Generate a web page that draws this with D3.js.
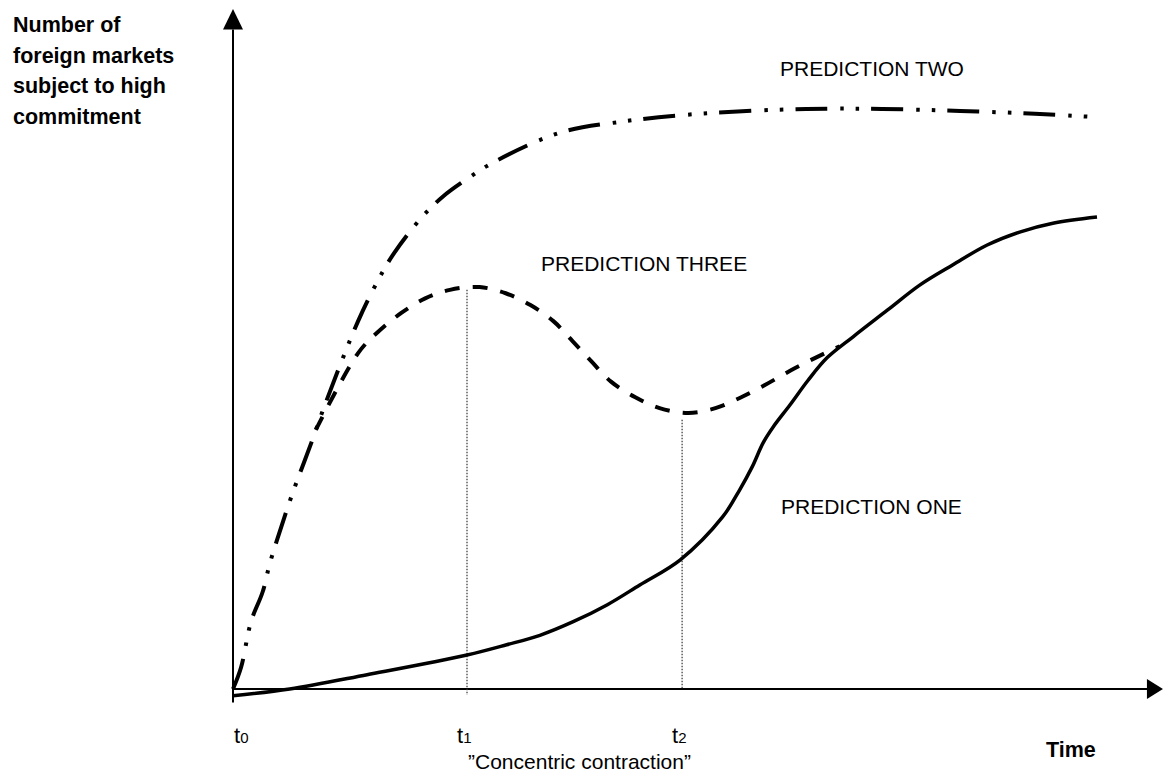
<!DOCTYPE html>
<html lang="en">
<head>
  <meta charset="UTF-8">
  <title>Foreign market commitment over time</title>
  <script src="https://d3js.org/d3.v7.min.js"></script>
  <style>
  body {
    margin: 0;
    background: #fff;
  }
  text {
    font-family: "Liberation Sans", Arial, sans-serif;
    fill: #000;
  }
  .label { font-size: 21px; }
  .bold { font-size: 21.5px; font-weight: bold; }
  .curve {
    fill: none;
    stroke: #000;
    stroke-linecap: butt;
    stroke-linejoin: round;
  }
  .guide {
    stroke: #333;
    stroke-width: 1.2px;
    stroke-dasharray: 1.5,1.5;
  }
  .axis line { stroke: #000; stroke-width: 2px; }
  </style>
</head>
<body>
  <div class="container"></div>
  <script>
  // x = time, y = number of markets (both in arbitrary 0..100 units)
  var oneX = [0, 6.3, 14.9, 26, 30.4, 34.1, 37.8, 41.6, 45.2, 49.7, 54.4, 56.3, 57.7, 58.9, 60, 61.9, 63.9, 66, 68.9, 72.7, 76.3, 80, 83.8, 87.4, 91.1, 96];
  var oneY = [-1, 0, 2.1, 5, 6.5, 7.9, 9.9, 12.4, 15.3, 19, 25.3, 29.3, 32.7, 36.2, 38.5, 41.8, 45.4, 48.7, 51.8, 55.7, 59.4, 62.4, 65.3, 67.2, 68.5, 69.4];

  var twoX = [0, 0.9, 2, 3.3, 4.1, 5.7, 6.7, 8.7, 10.3, 13.9, 16.2, 17.9, 21, 23.4, 26, 29, 36.3, 43, 51.9, 63.7, 72.1, 80.8, 89.1, 95.9];
  var twoY = [0, 3.2, 9.9, 14.3, 18.5, 25.2, 29.1, 36.2, 42.1, 54.1, 60.3, 64.1, 69.4, 72.5, 75, 77.5, 81.8, 83.4, 84.6, 85.3, 85.3, 85, 84.6, 84.1];

  var threeX = [9.2, 13.9, 16.1, 18.7, 21.3, 24.1, 27.4, 30.3, 33, 35.6, 37.7, 39.8, 42, 44.7, 47.4, 50.6, 53.6, 56.3, 59.1, 61.9, 64.7, 67.4];
  var threeY = [38.1, 49.4, 52.5, 55.3, 57.4, 58.7, 59.1, 58.2, 56.5, 54.1, 51.2, 48.2, 45.2, 42.9, 41.3, 40.6, 41.3, 42.8, 44.7, 46.8, 48.7, 50.4];

  var tickNames = ["t", "t", "t"];
  var tickSubs = ["0", "1", "2"];
  var tickX = [0, 26, 49.9];
  var guideTop = [58.7, 39.6];   // dotted lines at t1 and t2 (y where they start)

  var yTitle = ["Number of", "foreign markets", "subject to high", "commitment"];

  var w = 1163, h = 776;
  var x = d3.scaleLinear().domain([0, 100]).range([233, 1133]);
  var y = d3.scaleLinear().domain([0, 100]).range([689, 9]);

  var svg = d3.select('.container')
      .append('svg')
      .attr('width', w)
      .attr('height', h);

  // axes with arrow heads
  var ax = svg.append('g').attr('class', 'axis');
  ax.append('line')
    .attr('x1', x(0)).attr('y1', y(-2))
    .attr('x2', x(0)).attr('y2', y(97));
  ax.append('line')
    .attr('x1', x(0)).attr('y1', y(0))
    .attr('x2', x(101.6)).attr('y2', y(0));
  ax.append('path')
    .attr('d', 'M' + x(0) + ',' + y(100) + 'L' + (x(0) + 10) + ',' + y(97) + 'L' + (x(0) - 10) + ',' + y(97) + 'Z');
  ax.append('path')
    .attr('d', 'M' + x(103.33) + ',' + y(0) + 'L' + x(101.55) + ',' + (y(0) - 10) + 'L' + x(101.55) + ',' + (y(0) + 10) + 'Z');

  // dotted guides at t1, t2
  svg.selectAll('.guide')
    .data(guideTop)
    .enter().append('line')
    .attr('class', 'guide')
    .attr('x1', function(d, i) { return x(tickX[i + 1]); })
    .attr('x2', function(d, i) { return x(tickX[i + 1]); })
    .attr('y1', function(d) { return y(d); })
    .attr('y2', function(d, i) { return i == 0 ? y(-0.9) : y(0); });

  var line = d3.line()
      .x(function(d) { return x(d[0]); })
      .y(function(d) { return y(d[1]); })
      .curve(d3.curveCatmullRom.alpha(0.5));

  svg.append('path')
    .attr('class', 'curve')
    .attr('d', line(d3.zip(twoX, twoY)))
    .style('stroke-width', 4)
    .style('stroke-dasharray', '32,13,3.5,12,3.5,12');

  svg.append('path')
    .attr('class', 'curve')
    .attr('d', line(d3.zip(threeX, threeY)))
    .style('stroke-width', 4)
    .style('stroke-dasharray', '15,13');

  svg.append('path')
    .attr('class', 'curve')
    .attr('d', line(d3.zip(oneX, oneY)))
    .style('stroke-width', 3.5);

  // labels
  svg.append('text').attr('class', 'label').attr('x', 780).attr('y', 76).text('PREDICTION TWO');
  svg.append('text').attr('class', 'label').attr('x', 541).attr('y', 271).text('PREDICTION THREE');
  svg.append('text').attr('class', 'label').attr('x', 781).attr('y', 514).text('PREDICTION ONE');

  svg.append('text')
    .attr('class', 'bold')
    .selectAll('tspan')
    .data(yTitle)
    .enter().append('tspan')
    .attr('x', 13)
    .attr('y', function(d, i) { return 32 + i * 30.7; })
    .text(function(d) { return d; });

  var ticks = svg.selectAll('.tick')
      .data(tickX)
      .enter().append('text')
      .attr('class', 'tick')
      .attr('x', function(d, i) { return i == 0 ? x(d) + 1 : x(d) - 10; })
      .attr('y', 743);
  ticks.append('tspan')
    .style('font-size', '22px')
    .text(function(d, i) { return tickNames[i]; });
  ticks.append('tspan')
    .style('font-size', '15px')
    .text(function(d, i) { return tickSubs[i]; });

  svg.append('text').attr('class', 'label').attr('x', 468).attr('y', 769).text('\u201DConcentric contraction\u201D');
  svg.append('text').attr('class', 'bold').attr('x', 1046).attr('y', 757).text('Time');
  </script>
</body>
</html>
